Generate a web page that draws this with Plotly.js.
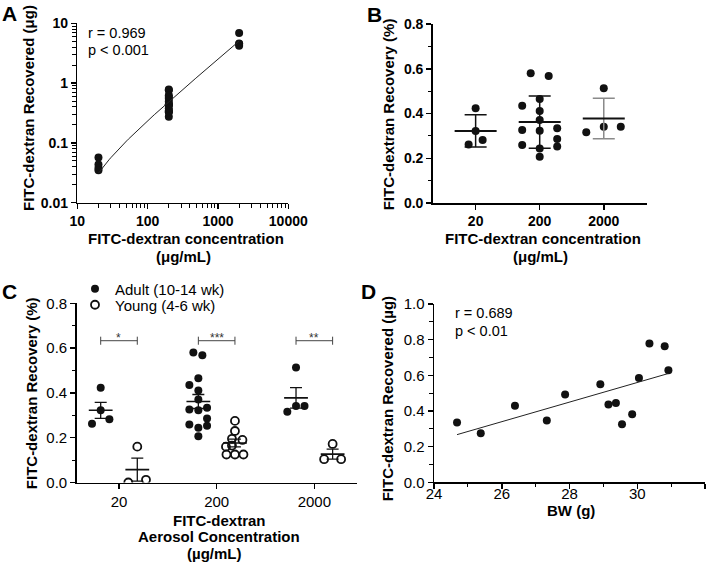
<!DOCTYPE html>
<html><head><meta charset="utf-8">
<script src="https://cdn.plot.ly/plotly-3.0.1.min.js"></script>
<style>html,body{margin:0;padding:0;background:#fff;} #chart{width:712px;height:566px;}</style>
</head><body><div id="chart"></div>
<script>
// ---------------- data ----------------
const concLabels = ['20', '200', '2000'];
const concValues = [20, 200, 2000];
// Panel B / C adults: FITC-dextran recovery (%)
const adult20 = [0.423, 0.322, 0.282, 0.262];
const adult200 = [0.580, 0.568, 0.465, 0.435, 0.411, 0.371, 0.326, 0.323, 0.334, 0.286, 0.259, 0.253, 0.244, 0.207];
const adult2000 = [0.513, 0.341, 0.341, 0.316];
// Panel C young: FITC-dextran recovery (%)
const young20 = [0.160, 0.000, 0.012];
const young200 = [0.275, 0.230, 0.195, 0.190, 0.165, 0.160, 0.125, 0.125, 0.125];
const young2000 = [0.172, 0.104, 0.104];
// Panel A: FITC-dextran recovered (µg)
const recovered20 = [0.057, 0.0435, 0.038, 0.035];
const recovered200 = [0.336, 0.275, 0.430, 0.346, 0.493, 0.550, 0.436, 0.445, 0.325, 0.381, 0.585, 0.778, 0.763, 0.628];
const recovered2000 = [6.9, 4.6, 4.5, 4.2];
// Panel D: body weight (g) of the 200 µg/mL group
const bodyWeight = [24.68, 25.38, 26.39, 27.33, 27.87, 28.91, 29.15, 29.37, 29.55, 29.85, 30.05, 30.36, 30.81, 30.92];
const statsA = ['r = 0.969', 'p < 0.001'];
const statsD = ['r = 0.689', 'p < 0.01'];
const sigLabels = ['*', '***', '**'];
const groupNames = ['Adult (10-14 wk)', 'Young (4-6 wk)'];

// ---------------- layout helpers (positions / jitter in px) ----------------
const W = 712, H = 566;
const FONT = 'Liberation Sans, Arial, Helvetica, sans-serif';
const jitterB = [[0, 0, 7, -7], [-9, 9, 0, -17.5, 0, 0, -17.5, 0, 17.5, 17.5, -17.5, 17.5, 0, 0], [0, 0, 17, -17.5]];
const jitterCA = [[0, 0, 8.7, -8.7], [-5, 4, 0, -9, 0, 0, -9, 0, 8.7, 8.7, -9, 8.7, 0, 0], [0, 0, 8.5, -8.7]];
const jitterCY = [[0, -9, 8.7], [0, 0, -3, 7.5, -3, -9, -8.5, 0, 8.5], [0, -8.5, 8.5]];

const xd = (a, b) => [a / W, b / W];
const yd = (top, bottom) => [1 - bottom / H, 1 - top / H];
const mean = a => a.reduce((s, v) => s + v, 0) / a.length;
const sd = a => { const m = mean(a); return Math.sqrt(a.reduce((s, v) => s + (v - m) * (v - m), 0) / (a.length - 1)); };
const sem = a => sd(a) / Math.sqrt(a.length);
function ols(xs, ys) {
  const mx = mean(xs), my = mean(ys);
  let sxy = 0, sxx = 0;
  xs.forEach((x, i) => { sxy += (x - mx) * (ys[i] - my); sxx += (x - mx) * (x - mx); });
  const b = sxy / sxx; return { b: b, a: my - b * mx };
}

const BX = { dom: [432.7, 646.7], range: [-0.67, 2.67] };
const CX = { dom: [76.7, 357], range: [-0.433, 2.437] };
const pxB = (BX.dom[1] - BX.dom[0]) / (BX.range[1] - BX.range[0]);
const pxC = (CX.dom[1] - CX.dom[0]) / (CX.range[1] - CX.range[0]);
const offC = 18.3 / pxC;

const traces = [];
const dot = { color: '#111', size: 8 };

// ---------------- Panel A ----------------
const aGroups = [recovered20, recovered200, recovered2000];
const aX = [], aY = [];
aGroups.forEach((g, i) => g.forEach(v => { aX.push(concValues[i]); aY.push(v); }));
traces.push({ type: 'scatter', mode: 'markers', x: aX, y: aY, xaxis: 'x', yaxis: 'y', marker: dot, showlegend: false, hoverinfo: 'skip' });
const fitA = ols(aX, aY);
const lxA = [], lyA = [];
const lo = Math.log10(Math.min(...aX)), hi = Math.log10(Math.max(...aX));
for (let k = 0; k <= 80; k++) { const x = Math.pow(10, lo + (hi - lo) * k / 80); lxA.push(x); lyA.push(fitA.a + fitA.b * x); }
traces.push({ type: 'scatter', mode: 'lines', x: lxA, y: lyA, xaxis: 'x', yaxis: 'y', line: { color: '#222', width: 1 }, showlegend: false, hoverinfo: 'skip' });

// ---------------- Panel B ----------------
const adultGroups = [adult20, adult200, adult2000];
const youngGroups = [young20, young200, young2000];
adultGroups.forEach((g, i) => {
  traces.push({ type: 'scatter', mode: 'markers', xaxis: 'x2', yaxis: 'y2',
    x: g.map((v, k) => i + jitterB[i][k] / pxB), y: g, marker: dot, showlegend: false, hoverinfo: 'skip' });
});
adultGroups.forEach((g, i) => {
  const c = i === 2 ? '#8a8a8a' : '#111';
  traces.push({ type: 'scatter', mode: 'markers', xaxis: 'x2', yaxis: 'y2', x: [i], y: [mean(g)],
    marker: { symbol: 'line-ew', size: 30, color: '#111', line: { color: '#111', width: 2 } },
    error_y: { type: 'data', array: [sd(g)], visible: true, color: c, thickness: 1.5, width: 11 },
    showlegend: false, hoverinfo: 'skip' });
});

// ---------------- Panel C ----------------
adultGroups.forEach((g, i) => {
  traces.push({ type: 'scatter', mode: 'markers', xaxis: 'x3', yaxis: 'y3',
    x: g.map((v, k) => i - offC + jitterCA[i][k] / pxC), y: g, marker: dot,
    name: groupNames[0], showlegend: i === 0, legend: 'legend', hoverinfo: 'skip' });
});
youngGroups.forEach((g, i) => {
  traces.push({ type: 'scatter', mode: 'markers', xaxis: 'x3', yaxis: 'y3',
    x: g.map((v, k) => i + offC + jitterCY[i][k] / pxC), y: g,
    marker: { symbol: 'circle-open', size: 8, color: '#111', line: { width: 1.8 } },
    name: groupNames[1], showlegend: i === 0, legend: 'legend2', hoverinfo: 'skip' });
});
[adultGroups, youngGroups].forEach((groups, s) => {
  traces.push({ type: 'scatter', mode: 'markers', xaxis: 'x3', yaxis: 'y3',
    x: groups.map((g, i) => i + (s === 0 ? -offC : offC)), y: groups.map(mean),
    marker: { symbol: 'line-ew', size: 17, color: '#111', line: { color: '#111', width: 1.6 } },
    error_y: { type: 'data', array: groups.map(sem), visible: true, color: '#111', thickness: 1.3, width: 6 },
    showlegend: false, hoverinfo: 'skip' });
});

// ---------------- Panel D ----------------
traces.push({ type: 'scatter', mode: 'markers', x: bodyWeight, y: recovered200, xaxis: 'x4', yaxis: 'y4', marker: dot, showlegend: false, hoverinfo: 'skip' });
const fitD = ols(bodyWeight, recovered200);
const dx = [Math.min(...bodyWeight), Math.max(...bodyWeight)];
traces.push({ type: 'scatter', mode: 'lines', x: dx, y: dx.map(x => fitD.a + fitD.b * x), xaxis: 'x4', yaxis: 'y4', line: { color: '#222', width: 1 }, showlegend: false, hoverinfo: 'skip' });

// ---------------- axes ----------------
const base = { showline: true, linecolor: '#000', linewidth: 1.5, ticks: 'outside', ticklen: 5, tickwidth: 1.5, tickcolor: '#000',
  showgrid: false, zeroline: false, fixedrange: true };
const boldTick = { family: FONT, size: 14, color: '#000', weight: 'bold' };
const regTick = { family: FONT, size: 15, color: '#000' };
const minorLin = d => ({ dtick: d, ticks: 'outside', ticklen: 3.5, tickwidth: 1.2, tickcolor: '#000', showgrid: false });
const minorLog = { dtick: 'D1', ticks: 'outside', ticklen: 3.5, tickwidth: 1, tickcolor: '#000', showgrid: false };

const layout = {
  width: W, height: H, margin: { l: 0, r: 0, t: 0, b: 0 }, paper_bgcolor: '#fff', plot_bgcolor: 'rgba(0,0,0,0)',
  font: { family: FONT, color: '#000' }, hovermode: false,
  xaxis: Object.assign({}, base, { domain: xd(77.3, 288.3), anchor: 'y', type: 'log', range: [1, 4],
    tickmode: 'array', tickvals: [10, 100, 1000, 10000], ticktext: ['10', '100', '1000', '10000'], tickfont: boldTick, minor: minorLog }),
  yaxis: Object.assign({}, base, { domain: yd(23.3, 202.7), anchor: 'x', type: 'log', range: [-2, 1],
    tickmode: 'array', tickvals: [0.01, 0.1, 1, 10], ticktext: ['0.01', '0.1', '1', '10'], tickfont: boldTick, minor: minorLog }),
  xaxis2: Object.assign({}, base, { domain: xd(BX.dom[0], BX.dom[1]), anchor: 'y2', range: BX.range,
    tickmode: 'array', tickvals: [0, 1, 2], ticktext: concLabels, tickfont: boldTick }),
  yaxis2: Object.assign({}, base, { domain: yd(24, 203), anchor: 'x2', range: [0, 0.8], dtick: 0.2, tick0: 0, tickformat: '.1f', tickfont: boldTick, minor: minorLin(0.1) }),
  xaxis3: Object.assign({}, base, { domain: xd(CX.dom[0], CX.dom[1]), anchor: 'y3', range: CX.range,
    tickmode: 'array', tickvals: [0, 1, 2], ticktext: concLabels, tickfont: regTick }),
  yaxis3: Object.assign({}, base, { domain: yd(303.3, 482.5), anchor: 'x3', range: [0, 0.8], dtick: 0.2, tick0: 0, tickformat: '.1f', tickfont: regTick, minor: minorLin(0.1) }),
  xaxis4: Object.assign({}, base, { domain: xd(434, 705), anchor: 'y4', range: [24, 32], dtick: 2, tick0: 24, tickfont: regTick, minor: minorLin(1), ticklabelstandoff: -8 }),
  yaxis4: Object.assign({}, base, { domain: yd(304, 482.3), anchor: 'x4', range: [0, 1], dtick: 0.2, tick0: 0, tickformat: '.1f', tickfont: regTick, minor: minorLin(0.1) }),
  legend: { x: 75 / W, y: 1 - 289 / H, xanchor: 'left', yanchor: 'middle', bgcolor: 'rgba(0,0,0,0)', font: { family: FONT, size: 15, color: '#000' } },
  legend2: { x: 75 / W, y: 1 - 305 / H, xanchor: 'left', yanchor: 'middle', bgcolor: 'rgba(0,0,0,0)', font: { family: FONT, size: 15, color: '#000' } },
  annotations: [], shapes: []
};

function ann(text, px, py, o) {
  layout.annotations.push(Object.assign({ text: text, xref: 'paper', yref: 'paper', x: px / W, y: 1 - py / H,
    xanchor: 'center', yanchor: 'middle', showarrow: false, font: { family: FONT, size: 15, color: '#000' } }, o || {}));
}
const boldT = { family: FONT, size: 15, color: '#000', weight: 'bold' };
// panel letters
ann('A', 9.5, 14, { font: { family: FONT, size: 21, color: '#000', weight: 'bold' } });
ann('B', 374, 15, { font: { family: FONT, size: 21, color: '#000', weight: 'bold' } });
ann('C', 9.7, 291, { font: { family: FONT, size: 21, color: '#000', weight: 'bold' } });
ann('D', 368, 291.7, { font: { family: FONT, size: 21, color: '#000', weight: 'bold' } });
// stats
ann(statsA[0], 86, 32.7, { xanchor: 'left', font: { family: FONT, size: 14.5, color: '#000' } });
ann(statsA[1], 86, 50, { xanchor: 'left', font: { family: FONT, size: 14.5, color: '#000' } });
ann(statsD[0], 452.7, 312.7, { xanchor: 'left', font: { family: FONT, size: 14.5, color: '#000' } });
ann(statsD[1], 452.7, 331, { xanchor: 'left', font: { family: FONT, size: 14.5, color: '#000' } });
// axis titles
ann('FITC-dextran Recovered (μg)', 28, 108, { textangle: -90, font: boldT });
ann('FITC-dextran concentration', 186, 238.3, { font: boldT });
ann('(μg/mL)', 183, 256, { font: boldT });
ann('FITC-dextran Recovery (%)', 388.3, 114, { textangle: -90, font: boldT });
ann('FITC-dextran concentration', 542.7, 238.3, { font: boldT });
ann('(μg/mL)', 540, 256, { font: boldT });
ann('FITC-dextran Recovery (%)', 31.7, 393.5, { textangle: -90, font: boldT });
ann('FITC-dextran', 219, 520, { font: boldT });
ann('Aerosol Concentration', 219.3, 536.7, { font: boldT });
ann('(µg/mL)', 214, 553.3, { font: boldT });
ann('FITC-dextran Recovered (µg)', 387.3, 399, { textangle: -90, font: boldT });
ann('BW (g)', 570.7, 510, { font: boldT });

// significance brackets (panel C)
const brY = 0.633, brTick = 0.018;
sigLabels.forEach((s, i) => {
  const x0 = i - offC, x1 = i + offC;
  const ln = { color: '#444', width: 1 };
  layout.shapes.push({ type: 'line', xref: 'x3', yref: 'y3', x0: x0, x1: x1, y0: brY, y1: brY, line: ln });
  layout.shapes.push({ type: 'line', xref: 'x3', yref: 'y3', x0: x0, x1: x0, y0: brY - brTick, y1: brY + brTick, line: ln });
  layout.shapes.push({ type: 'line', xref: 'x3', yref: 'y3', x0: x1, x1: x1, y0: brY - brTick, y1: brY + brTick, line: ln });
  layout.annotations.push({ text: s, xref: 'x3', yref: 'y3', x: i, y: brY, xanchor: 'center', yanchor: 'middle', yshift: 3,
    showarrow: false, font: { family: FONT, size: 12, color: '#333' } });
});

Plotly.newPlot('chart', traces, layout, { staticPlot: true, displayModeBar: false });
</script></body></html>
